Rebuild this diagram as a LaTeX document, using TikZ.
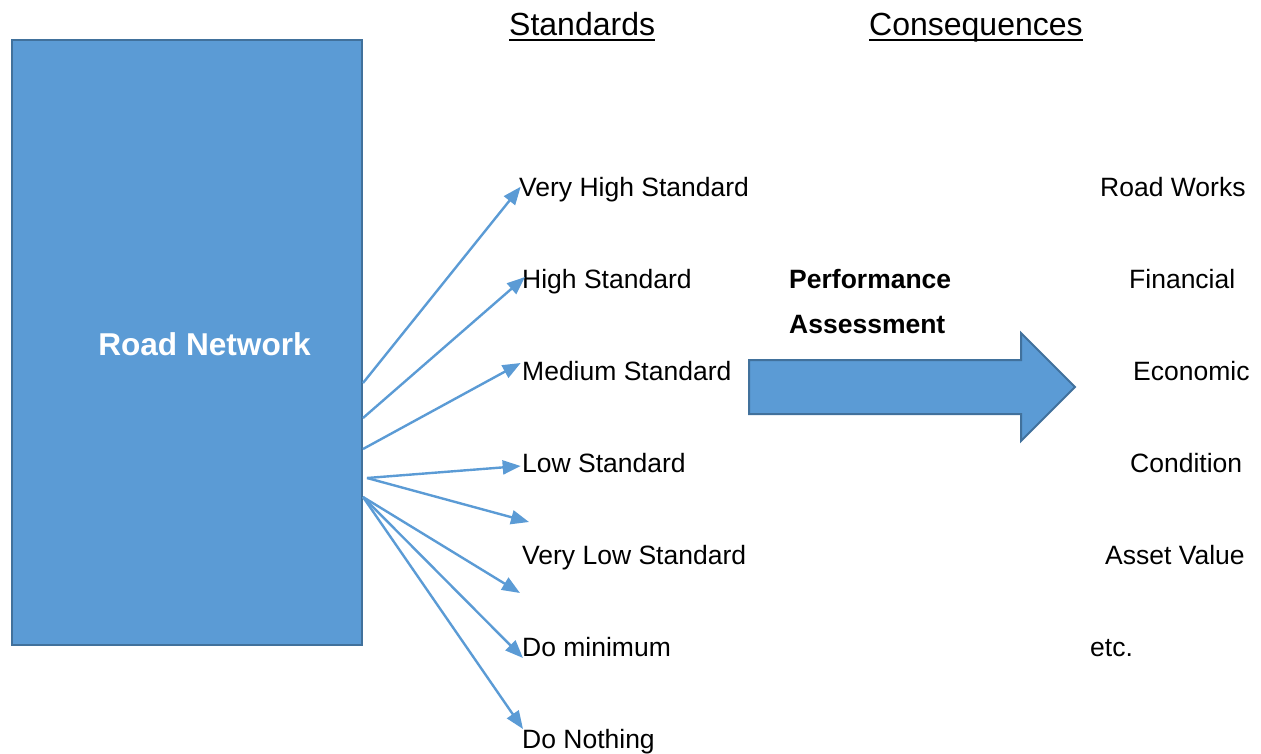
\documentclass[tikz,border=0pt]{standalone}
\usepackage{fontspec}
\setmainfont{Liberation Sans}
\usetikzlibrary{arrows.meta}

\definecolor{roadblue}{HTML}{5B9BD5}
\definecolor{roadedge}{HTML}{41719C}

\begin{document}
\begin{tikzpicture}[x=1pt,y=-1pt,
    lbl/.style={inner sep=0pt,anchor=base west,font=\fontsize{26.5}{30}\selectfont},
    hdr/.style={inner sep=0pt,anchor=base west,font=\fontsize{32}{36}\selectfont},
    choice/.style={roadblue,line width=2.4pt,-{Triangle[length=18pt,width=14pt]}}]
  \useasboundingbox (0,0) rectangle (1261,754);

  % network block
  \node[draw=roadedge,fill=roadblue,line width=2pt,minimum width=350pt,minimum height=605pt,inner sep=0pt] (net) at (187,342.5) {};
  \node[white,font=\fontsize{31.6}{34}\selectfont\bfseries,inner sep=0pt] (netname) at (204.5,344) {Road Network};

  % column heads
  \node[hdr] (std) at (509,35.5) {Standards};
  \node[hdr] (cons) at (869,35.5) {Consequences};
  \draw[line width=2pt] ([yshift=-4.5pt]std.base west) -- ([yshift=-4.5pt]std.base east);
  \draw[line width=2pt] ([yshift=-4.5pt]cons.base west) -- ([yshift=-4.5pt]cons.base east);

  % standards
  \node[lbl] (vhs) at (519,196.5) {Very High Standard};
  \node[lbl] (hs) at (522,288.5) {High Standard};
  \node[lbl] (ms) at (522,380.5) {Medium Standard};
  \node[lbl] (ls) at (522,472.5) {Low Standard};
  \node[lbl] (vls) at (522,564.5) {Very Low Standard};
  \node[lbl] (dmin) at (522,656.5) {Do minimum};
  \node[lbl] (dnot) at (522,748.5) {Do Nothing};

  % consequences
  \node[lbl] (works) at (1100,196.5) {Road Works};
  \node[lbl] (fin) at (1129,288.5) {Financial};
  \node[lbl] (econ) at (1133,380.5) {Economic};
  \node[lbl] (cond) at (1130,472.5) {Condition};
  \node[lbl] (asset) at (1105,564.5) {Asset Value};
  \node[lbl] (etc) at (1090,656.5) {etc.};

  \node[lbl,font=\fontsize{26.5}{30}\selectfont\bfseries] (perf) at (789,288.5) {Performance};
  \node[lbl,font=\fontsize{26.5}{30}\selectfont\bfseries] (assess) at (789,333) {Assessment};

  % fan of arrows out of the network
  \coordinate (s1) at (363,383);
  \coordinate (s2) at (363,418);
  \coordinate (s3) at (363,449);
  \coordinate (s4) at (367,478);
  \coordinate (s5) at (363,497);
  \coordinate (t1) at (520.7,186.7);
  \coordinate (t2) at (525,277);
  \coordinate (t3) at (520.7,363);
  \coordinate (t4) at (520.7,466);
  \coordinate (t5) at (529,522);
  \coordinate (t6) at (520,593);
  \coordinate (t7) at (523,658);
  \coordinate (t8) at (523,729);

  \draw[choice] (s1) -- (t1);
  \draw[choice] (s2) -- (t2);
  \draw[choice] (s3) -- (t3);
  \draw[choice] (s4) -- (t4);
  \draw[choice] (s4) -- (t5);
  \draw[choice] (s5) -- (t6);
  \draw[choice] (s5) -- (t7);
  \draw[choice] (s5) -- (t8);

  % block arrow
  \draw[draw=roadedge,fill=roadblue,line width=2pt,line join=miter]
    (749,360) -- (1021,360) -- (1021,333) -- (1075,387) -- (1021,441) -- (1021,414) -- (749,414) -- cycle;
\end{tikzpicture}
\end{document}
